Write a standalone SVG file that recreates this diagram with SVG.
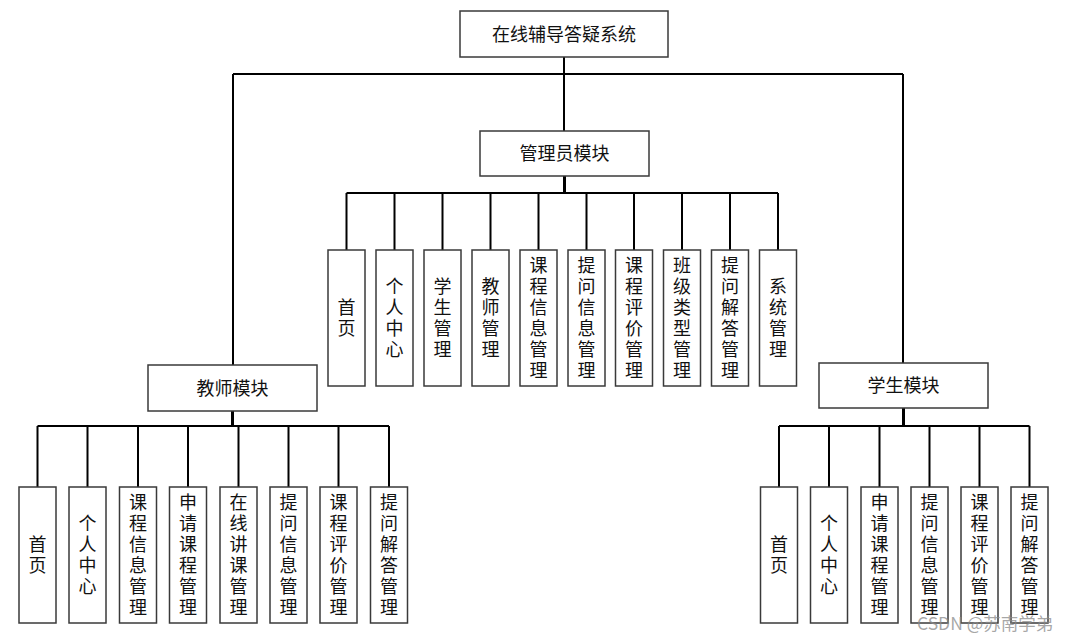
<svg xmlns="http://www.w3.org/2000/svg" width="1068" height="641" viewBox="0 0 1068 641">
<style>
.box{fill:#fff;stroke:#3a3a3a;stroke-width:1.5}
.ln{fill:none;stroke:#000;stroke-width:2}
.stem{fill:none;stroke:#000;stroke-width:3}
text{font-family:"Noto Sans CJK SC","Noto Sans",sans-serif;font-size:18px;fill:#111;text-anchor:middle}
.v{writing-mode:vertical-rl;letter-spacing:3px}
.wm{font-size:17.5px;fill:#8a8a8a;fill-opacity:0.75;text-anchor:start}
</style>
<rect width="1068" height="641" fill="#fff"/>
<g id="connectors">
<path class="ln" d="M564,57V131M233,74H903M233,74V365M903,74V363"/>
<path class="stem" d="M564.5,176V193"/>
<path class="ln" d="M346.5,193H778M346.5,193V250M394.5,193V250M442.5,193V250M490.5,193V250M538.5,193V250M586.5,193V250M634,193V250M682,193V250M730,193V250M778,193V250"/>
<path class="stem" d="M232.5,411V426"/>
<path class="ln" d="M37.5,426H389M37.5,426V487M87.5,426V487M138,426V487M188,426V487M238.5,426V487M288.5,426V487M338.5,426V487M389,426V487"/>
<path class="stem" d="M903.5,408V426"/>
<path class="ln" d="M779,426H1029.5M779,426V487M829,426V487M879.5,426V487M929.5,426V487M979.5,426V487M1029.5,426V487"/>
</g>
<g id="root"><rect class="box" x="460" y="11" width="208" height="46"/><text x="564" y="40.5">在线辅导答疑系统</text></g>
<g id="admin"><rect class="box" x="480" y="131" width="169" height="45"/><text x="564.5" y="160">管理员模块</text></g>
<g id="teacher"><rect class="box" x="148" y="365" width="169" height="46"/><text x="232.5" y="394.5">教师模块</text></g>
<g id="student"><rect class="box" x="819" y="363" width="169" height="45"/><text x="903.5" y="392">学生模块</text></g>

<g id="a1"><rect class="box" x="328" y="250" width="37" height="136"/><text class="v" x="346.5" y="319.5">首页</text></g>
<g id="a2"><rect class="box" x="376" y="250" width="37" height="136"/><text class="v" x="394.5" y="319.5">个人中心</text></g>
<g id="a3"><rect class="box" x="424" y="250" width="37" height="136"/><text class="v" x="442.5" y="319.5">学生管理</text></g>
<g id="a4"><rect class="box" x="472" y="250" width="37" height="136"/><text class="v" x="490.5" y="319.5">教师管理</text></g>
<g id="a5"><rect class="box" x="520" y="250" width="37" height="136"/><text class="v" x="538.5" y="319.5">课程信息管理</text></g>
<g id="a6"><rect class="box" x="568" y="250" width="37" height="136"/><text class="v" x="586.5" y="319.5">提问信息管理</text></g>
<g id="a7"><rect class="box" x="615.5" y="250" width="37" height="136"/><text class="v" x="634" y="319.5">课程评价管理</text></g>
<g id="a8"><rect class="box" x="663.5" y="250" width="37" height="136"/><text class="v" x="682" y="319.5">班级类型管理</text></g>
<g id="a9"><rect class="box" x="711.5" y="250" width="37" height="136"/><text class="v" x="730" y="319.5">提问解答管理</text></g>
<g id="a10"><rect class="box" x="759.5" y="250" width="37" height="136"/><text class="v" x="778" y="319.5">系统管理</text></g>

<g id="t1"><rect class="box" x="19" y="487" width="37" height="136"/><text class="v" x="37.5" y="556.5">首页</text></g>
<g id="t2"><rect class="box" x="69" y="487" width="37" height="136"/><text class="v" x="87.5" y="556.5">个人中心</text></g>
<g id="t3"><rect class="box" x="119.5" y="487" width="37" height="136"/><text class="v" x="138" y="556.5">课程信息管理</text></g>
<g id="t4"><rect class="box" x="169.5" y="487" width="37" height="136"/><text class="v" x="188" y="556.5">申请课程管理</text></g>
<g id="t5"><rect class="box" x="220" y="487" width="37" height="136"/><text class="v" x="238.5" y="556.5">在线讲课管理</text></g>
<g id="t6"><rect class="box" x="270" y="487" width="37" height="136"/><text class="v" x="288.5" y="556.5">提问信息管理</text></g>
<g id="t7"><rect class="box" x="320" y="487" width="37" height="136"/><text class="v" x="338.5" y="556.5">课程评价管理</text></g>
<g id="t8"><rect class="box" x="370.5" y="487" width="37" height="136"/><text class="v" x="389" y="556.5">提问解答管理</text></g>

<g id="s1"><rect class="box" x="760.5" y="487" width="37" height="136"/><text class="v" x="779" y="556.5">首页</text></g>
<g id="s2"><rect class="box" x="810.5" y="487" width="37" height="136"/><text class="v" x="829" y="556.5">个人中心</text></g>
<g id="s3"><rect class="box" x="861" y="487" width="37" height="136"/><text class="v" x="879.5" y="556.5">申请课程管理</text></g>
<g id="s4"><rect class="box" x="911" y="487" width="37" height="136"/><text class="v" x="929.5" y="556.5">提问信息管理</text></g>
<g id="s5"><rect class="box" x="961" y="487" width="37" height="136"/><text class="v" x="979.5" y="556.5">课程评价管理</text></g>
<g id="s6"><rect class="box" x="1011" y="487" width="37" height="136"/><text class="v" x="1029.5" y="556.5">提问解答管理</text></g>

<text class="wm" x="917" y="630">CSDN @苏南学弟</text>
</svg>
